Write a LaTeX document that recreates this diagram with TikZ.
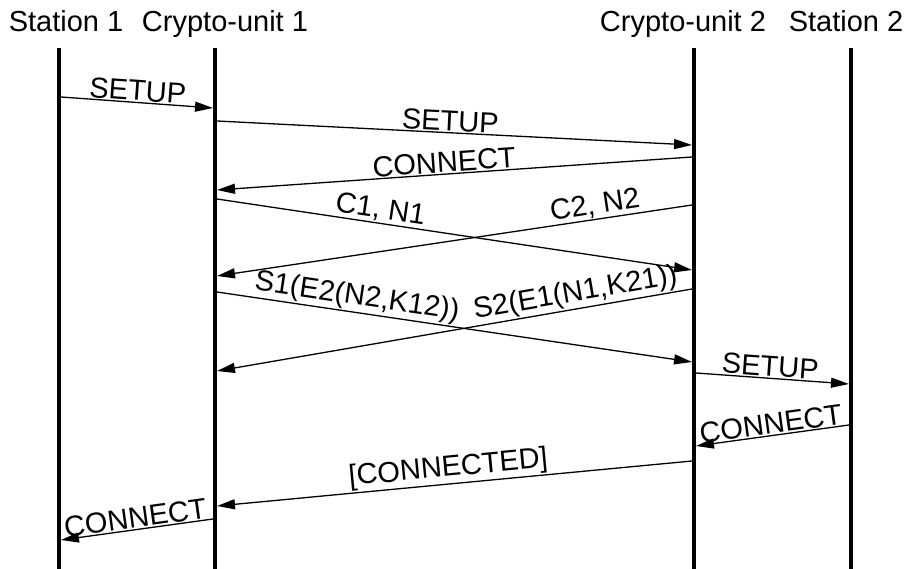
\documentclass[tikz,border=0pt]{standalone}
\usepackage{fontspec}
\setmainfont{Liberation Sans}
\usetikzlibrary{arrows.meta}
\begin{document}
\begin{tikzpicture}[x=1pt,y=-1pt,
  head/.style={font=\fontsize{29}{33}\selectfont, anchor=base, inner sep=0pt},
  life/.style={line width=4pt},
  msg/.style={line width=1.3pt, -{Triangle[length=18pt,width=10pt]}},
  lbl/.style={sloped, above, inner sep=1pt, font=\fontsize{29}{33}\selectfont}]
\useasboundingbox (0,0) rectangle (906,569);
% headers
\node[head] (h1) at (66,32) {Station 1};
\node[head] (h2) at (225,32) {Crypto-unit 1};
\node[head] (h3) at (683,32) {Crypto-unit 2};
\node[head] (h4) at (846,32) {Station 2};
% lifelines
\coordinate (t1) at (59,48);  \coordinate (b1) at (59,569);
\coordinate (t2) at (215,48); \coordinate (b2) at (215,569);
\coordinate (t3) at (694,48); \coordinate (b3) at (694,569);
\coordinate (t4) at (851,48); \coordinate (b4) at (851,569);
\draw[life] (t1) -- (b1);
\draw[life] (t2) -- (b2);
\draw[life] (t3) -- (b3);
\draw[life] (t4) -- (b4);
% message end points
\coordinate (m1a) at (61,97);   \coordinate (m1b) at (213,108);
\coordinate (m2a) at (217,121); \coordinate (m2b) at (692,145);
\coordinate (m3a) at (692,157); \coordinate (m3b) at (217,190);
\coordinate (m4a) at (217,199); \coordinate (m4b) at (692,270);
\coordinate (m5a) at (692,205); \coordinate (m5b) at (217,276);
\coordinate (m6a) at (217,292); \coordinate (m6b) at (692,362);
\coordinate (m7a) at (692,289); \coordinate (m7b) at (217,371);
\coordinate (m8a) at (696,373); \coordinate (m8b) at (849,384);
\coordinate (m9a) at (849,425); \coordinate (m9b) at (696,446);
\coordinate (m10a) at (692,461); \coordinate (m10b) at (217,506);
\coordinate (m11a) at (213,519); \coordinate (m11b) at (61,540);
% messages
\draw[msg] (m1a) -- node[lbl,pos=0.5] {SETUP} (m1b);
\draw[msg] (m2a) -- node[lbl,pos=0.49] {SETUP} (m2b);
\draw[msg] (m3a) -- node[lbl,pos=0.52] {CONNECT} (m3b);
\draw[msg] (m4a) -- node[lbl,pos=0.34] {C1, N1} (m4b);
\draw[msg] (m5a) -- node[lbl,pos=0.2] {C2, N2} (m5b);
\draw[msg] (m6a) -- node[lbl,pos=0.29] {S1(E2(N2,K12))} (m6b);
\draw[msg] (m7a) -- node[lbl,pos=0.24] {S2(E1(N1,K21))} (m7b);
\draw[msg] (m8a) -- node[lbl,pos=0.48] {SETUP} (m8b);
\draw[msg] (m9a) -- node[lbl,pos=0.5] {CONNECT} (m9b);
\draw[msg] (m10a) -- node[lbl,pos=0.51] {[CONNECTED]} (m10b);
\draw[msg] (m11a) -- node[lbl,pos=0.5] {CONNECT} (m11b);
\end{tikzpicture}
\end{document}
